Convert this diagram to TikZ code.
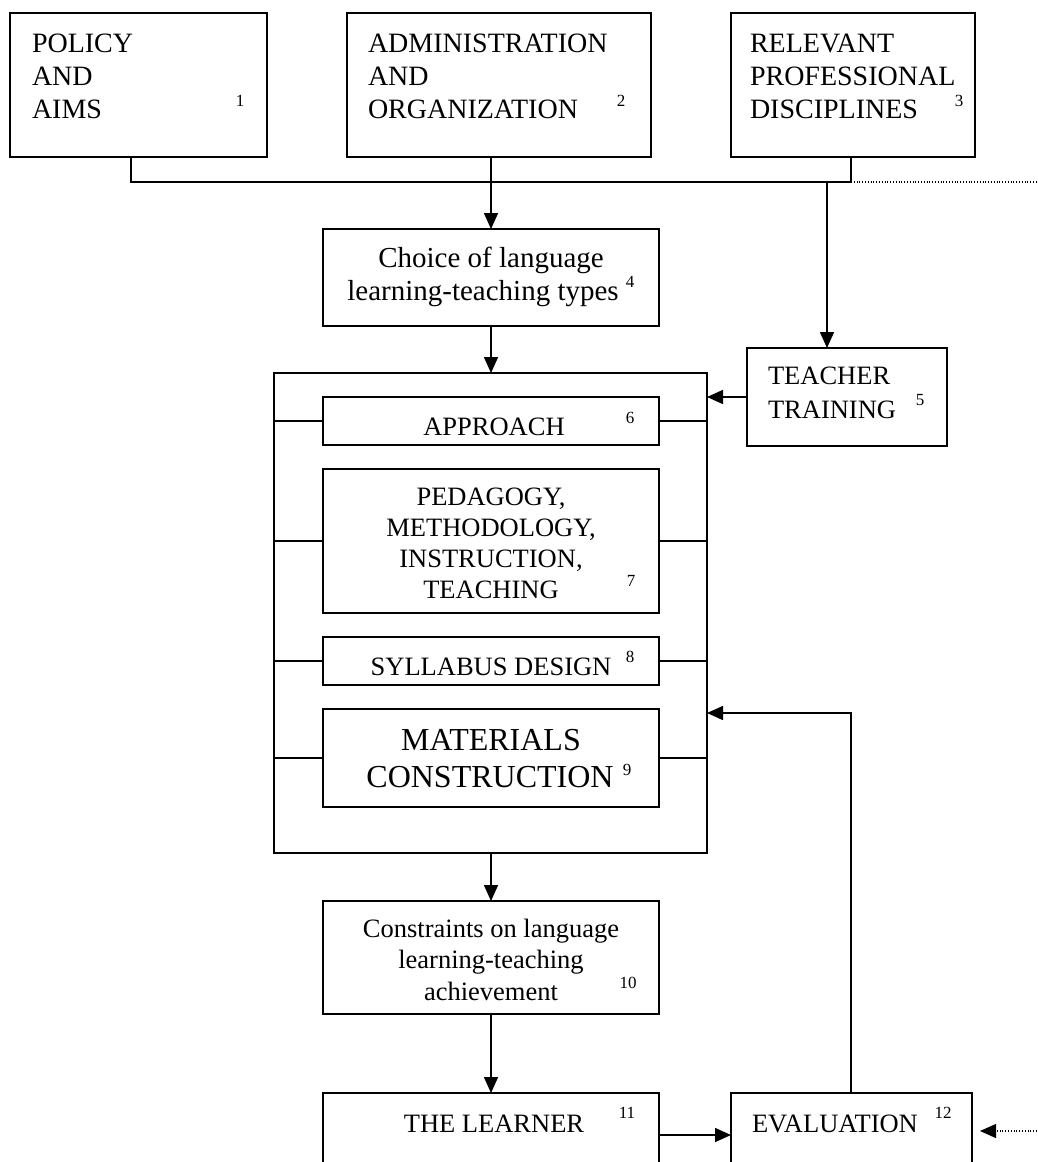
\documentclass[tikz,border=0pt]{standalone}
\usepackage{fontspec}
\setmainfont{Liberation Serif}
\usetikzlibrary{arrows.meta}
\begin{document}
\begin{tikzpicture}[x=1pt,y=-1pt,
  box/.style={draw, line width=1.6pt, rectangle, inner sep=0pt, outer sep=0pt, anchor=north west},
  ln/.style={line width=1.6pt},
  arr/.style={line width=1.6pt, -{Triangle[length=16pt,width=14pt]}},
  dotln/.style={line width=1.1pt, dash pattern=on 1pt off 1.8pt},
  dotarr/.style={line width=1.1pt, dash pattern=on 1pt off 1.8pt, -{Triangle[length=16pt,width=14pt]}},
  tl/.style={inner sep=0pt, outer sep=0pt, font=\fontsize{28}{32}\selectfont},
  tc/.style={inner sep=0pt, outer sep=0pt, font=\fontsize{29}{33}\selectfont},
  tm/.style={inner sep=0pt, outer sep=0pt, font=\fontsize{26.5}{30}\selectfont},
  tbig/.style={inner sep=0pt, outer sep=0pt, font=\fontsize{32}{36}\selectfont},
  num/.style={inner sep=0pt, outer sep=0pt, anchor=base, font=\fontsize{17}{17}\selectfont}
]
\useasboundingbox (0,0) rectangle (1037,1162);
\fill[white] (0,0) rectangle (1037,1162);
\clip (0,0) rectangle (1037,1162);

% boxes
\node[box, minimum width=257pt, minimum height=144pt] (b1) at (10,13) {};
\node[box, minimum width=304pt, minimum height=144pt] (b2) at (347,13) {};
\node[box, minimum width=244pt, minimum height=144pt] (b3) at (731,13) {};
\node[box, minimum width=336pt, minimum height=97pt] (b4) at (323,229) {};
\node[box, minimum width=200pt, minimum height=98pt] (b5) at (747,348) {};
\node[box, minimum width=433pt, minimum height=480pt] (big) at (274,373) {};
\node[box, minimum width=336pt, minimum height=48pt] (b6) at (323,397) {};
\node[box, minimum width=336pt, minimum height=144pt] (b7) at (323,469) {};
\node[box, minimum width=336pt, minimum height=48pt] (b8) at (323,637) {};
\node[box, minimum width=336pt, minimum height=98pt] (b9) at (323,709) {};
\node[box, minimum width=336pt, minimum height=113pt] (b10) at (323,901) {};
\node[box, minimum width=336pt, minimum height=150pt] (b11) at (323,1093) {};
\node[box, minimum width=241pt, minimum height=150pt] (b12) at (731,1093) {};

% texts
\node[tl, anchor=base west] (t1a) at (32,52) {POLICY};
\node[tl, anchor=base west] (t1b) at (32,85) {AND};
\node[tl, anchor=base west] (t1c) at (32,118) {AIMS};
\node[tl, anchor=base west] (t2a) at (368,52) {ADMINISTRATION};
\node[tl, anchor=base west] (t2b) at (368,85) {AND};
\node[tl, anchor=base west] (t2c) at (368,118) {ORGANIZATION};
\node[tl, anchor=base west] (t3a) at (750,52) {RELEVANT};
\node[tl, anchor=base west] (t3b) at (750,85) {PROFESSIONAL};
\node[tl, anchor=base west] (t3c) at (750,118) {DISCIPLINES};
\node[tc, anchor=base] (t4a) at (491,267) {Choice of language};
\node[tc, anchor=base] (t4b) at (483,300) {learning-teaching types};
\node[tm, anchor=base west] (t5a) at (768,384) {TEACHER};
\node[tm, anchor=base west] (t5b) at (768,418) {TRAINING};
\node[tm, anchor=base] (t6) at (494,435) {APPROACH};
\node[tm, anchor=base] (t7a) at (491,505) {PEDAGOGY,};
\node[tm, anchor=base] (t7b) at (491,536) {METHODOLOGY,};
\node[tm, anchor=base] (t7c) at (491,567) {INSTRUCTION,};
\node[tm, anchor=base] (t7d) at (491,598) {TEACHING};
\node[tm, anchor=base] (t8) at (491,675) {SYLLABUS DESIGN};
\node[tbig, anchor=base] (t9a) at (491,750) {MATERIALS};
\node[tbig, anchor=base] (t9b) at (490,787) {CONSTRUCTION};
\node[tm, anchor=base] (t10a) at (491,937) {Constraints on language};
\node[tm, anchor=base] (t10b) at (491,968) {learning-teaching};
\node[tm, anchor=base] (t10c) at (491,1000) {achievement};
\node[tm, anchor=base] (t11) at (494,1132) {THE LEARNER};
\node[tm, anchor=base west] (t12) at (752,1132) {EVALUATION};

% numbers
\node[num] (n1) at (240,106) {1};
\node[num] (n2) at (621,106) {2};
\node[num] (n3) at (959,106) {3};
\node[num] (n4) at (630,287) {4};
\node[num] (n5) at (920,405) {5};
\node[num] (n6) at (630,423) {6};
\node[num] (n7) at (631,586) {7};
\node[num] (n8) at (630,662) {8};
\node[num] (n9) at (627,775) {9};
\node[num] (n10) at (628,988) {10};
\node[num] (n11) at (627,1118) {11};
\node[num] (n12) at (943,1118) {12};

% junction coordinates
\coordinate (j1) at (131,182);
\coordinate (j2) at (491,182);
\coordinate (j3) at (851,182);
\coordinate (tt) at (827,182);
\coordinate (rt) at (1037,182);
\coordinate (le) at (659,1135);
\coordinate (fb) at (851,713);
\coordinate (re) at (1037,1131);
\coordinate (ee) at (980,1131);

% connectors
\draw[ln] (b1.south -| j1) -- (j1) -- (j3) -- (b3.south -| j3);
\draw[dotln] (j3) -- (rt);
\draw[arr] (b2.south -| j2) -- (b4.north -| j2);
\draw[arr] (tt) -- (b5.north -| tt);
\draw[arr] (b4.south) -- (big.north -| b4.south);
\draw[arr] (b5.west) -- (big.east |- b5.west);
\foreach \b in {b6,b7,b8,b9}{
  \draw[ln] (big.west |- \b.west) -- (\b.west);
  \draw[ln] (\b.east) -- (big.east |- \b.east);
}
\draw[arr] (big.south -| b10.north) -- (b10.north);
\draw[arr] (b10.south) -- (b11.north);
\draw[arr] (le) -- (b12.west |- le);
\draw[arr] (b12.north -| fb) -- (fb) -- (big.east |- fb);
\draw[dotarr] (re) -- (ee);
\end{tikzpicture}
\end{document}
